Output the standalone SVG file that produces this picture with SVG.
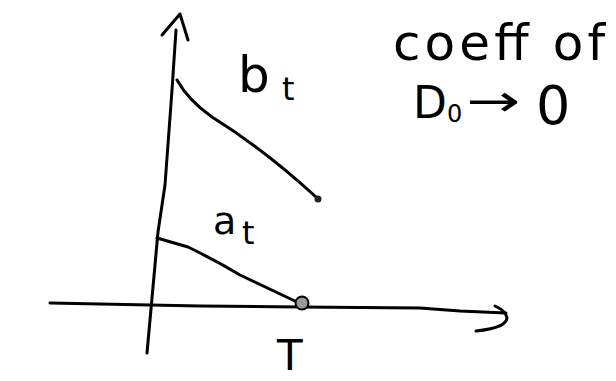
<svg xmlns="http://www.w3.org/2000/svg" width="616" height="381" viewBox="0 0 616 381">
<style>
.ink{fill:none;stroke:#000;stroke-width:3;stroke-linecap:round;stroke-linejoin:round}
.lbl{font-family:"DejaVu Sans","Liberation Sans",sans-serif;fill:#000}
</style>
<rect width="616" height="381" fill="#fff"/>
<g id="connectors">
<g id="y-axis">
<path class="ink" d="M176 30 L172 90 L165 185 L158 232 L147 353"/>
<path class="ink" d="M162 35 L180 14 L188 40"/>
</g>
<g id="x-axis">
<path class="ink" d="M50 303 L200 306 L300 307 L420 308 L460 311 L506 313"/>
<path class="ink" d="M495 306 Q506 311 507 318 Q506 328 476 331"/>
</g>
<g id="curve-b">
<path class="ink" d="M177 80 Q188 100 212 117 Q265 150 316 197"/>
<circle cx="318" cy="199" r="3.5" fill="#222"/>
</g>
<g id="curve-a">
<path class="ink" d="M157 238 L188 247 Q215 260 240 275 L297 302"/>
<circle cx="302" cy="303" r="6.5" fill="#999" stroke="#000" stroke-width="2"/>
</g>
</g>
<g id="label-b">
<text class="lbl" x="238" y="92" font-size="50">b</text>
<text class="lbl" x="282" y="100" font-size="32">t</text>
</g>
<g id="label-a">
<text class="lbl" x="213" y="234" font-size="38">a</text>
<text class="lbl" x="242" y="244" font-size="32">t</text>
</g>
<g id="label-T">
<text class="lbl" x="277" y="370" font-size="42">T</text>
</g>
<g id="label-coeff">
<text class="lbl" x="393" y="60" font-size="50" textLength="212" lengthAdjust="spacing">coeff of</text>
</g>
<g id="label-D">
<text class="lbl" x="413" y="118" font-size="44">D<tspan font-size="24" dy="4">0</tspan><tspan x="466" y="116" textLength="54" lengthAdjust="spacingAndGlyphs">→</tspan><tspan x="536" y="124" font-size="54">0</tspan></text>
</g>
</svg>
